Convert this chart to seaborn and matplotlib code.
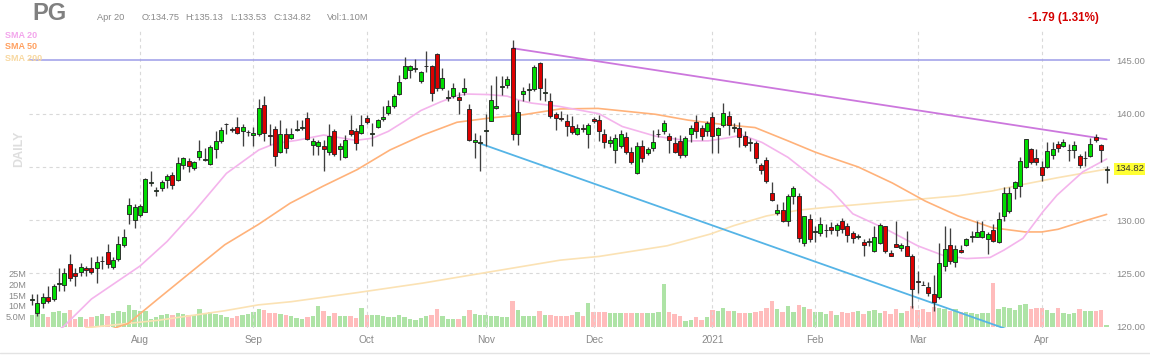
import numpy as np
import pandas as pd
import matplotlib
matplotlib.use("Agg")
import matplotlib.pyplot as plt
import matplotlib.transforms as mtransforms
import seaborn as sns

# ---------------- data ----------------
opens = [122.55,121.3,122.2,122.75,122.6,124.0,123.9,125.9,125.0,125.1,
125.5,125.5,125.5,126.15,127.0,125.6,126.35,127.65,130.6,130.0,
130.5,130.8,133.5,132.75,133.0,133.75,134.2,133.75,135.15,135.6,
134.95,135.9,135.65,135.25,136.7,137.4,139.0,138.6,138.8,138.4,
138.25,138.0,138.1,140.8,138.0,138.6,136.4,138.1,137.7,138.45,
138.7,139.6,137.1,136.95,137.0,136.45,138.35,136.7,135.9,138.5,
138.35,138.2,139.6,138.05,138.8,139.5,140.05,140.7,141.85,143.35,
144.15,144.2,143.05,144.45,144.45,145.6,142.45,141.5,141.7,141.55,
142.0,140.45,137.35,137.25,138.4,139.35,140.5,142.5,142.7,146.15,
138.1,141.85,142.2,142.3,144.8,141.95,141.15,139.95,139.62,139.3,
138.85,138.1,138.7,138.05,139.5,139.4,138.05,137.25,136.6,137.0,
137.8,136.45,134.45,137.0,136.3,136.8,138.05,138.35,137.95,137.25,
137.4,136.15,138.1,139.2,138.65,138.35,139.7,138.0,138.9,139.75,
138.65,138.7,137.9,137.25,137.25,135.2,135.7,132.55,130.7,131.0,
129.9,132.25,132.3,127.9,130.1,128.9,128.8,129.05,129.4,129.05,
129.95,129.45,128.8,128.45,127.95,128.0,127.1,127.85,129.45,126.9,
127.75,127.4,127.55,126.6,124.25,123.95,123.7,123.1,122.75,125.7,
127.65,126.05,127.2,127.65,128.4,128.45,128.4,128.2,129.1,127.95,
130.4,130.9,133.05,133.2,135.0,136.65,135.8,135.0,135.0,136.1,
137.2,137.0,136.55,136.6,136.05,135.8,136.0,137.8,137.05,134.75]

closes = [122.6,122.2,122.8,122.4,123.85,124.05,125.0,124.6,124.8,125.6,
125.3,125.1,126.1,126.2,125.9,126.3,127.8,128.4,131.4,131.2,
131.3,133.85,133.55,132.8,133.6,134.15,133.3,135.4,135.8,135.1,
135.5,136.5,135.7,136.9,137.4,138.5,139.05,138.45,138.2,138.8,
138.3,138.2,140.55,138.2,137.95,136.0,138.1,136.75,138.1,138.6,
138.75,137.65,137.45,137.35,136.7,137.95,136.2,136.95,137.55,138.05,
137.25,138.95,139.2,138.2,139.4,139.7,140.7,141.7,142.95,144.45,
144.45,144.25,143.9,144.5,141.95,142.45,143.35,141.55,142.4,141.3,
142.4,137.55,137.5,137.3,138.45,141.25,140.7,142.55,143.25,138.05,
140.2,142.1,142.3,144.35,142.45,142.0,139.75,139.6,139.47,138.85,
138.3,138.7,138.55,138.95,139.35,138.4,137.3,137.55,137.7,138.05,
136.45,135.5,137.0,135.85,136.7,137.3,138.1,139.1,137.5,136.45,
136.15,137.7,138.65,138.4,137.95,139.1,137.9,138.7,140.1,138.9,
138.65,137.8,137.1,137.25,135.85,134.75,133.65,131.9,131.0,129.9,
132.25,133.05,128.35,130.4,128.25,128.9,129.6,129.1,129.05,129.55,
129.15,128.6,128.3,128.45,127.65,128.05,128.45,129.55,127.1,126.65,
127.45,127.7,126.65,123.55,124.2,123.9,123.15,122.3,125.95,127.3,
126.2,127.3,127.0,128.2,128.55,128.9,129.0,128.7,128.05,130.15,
132.6,132.6,133.55,135.55,137.6,135.45,135.45,134.2,136.5,136.65,
136.8,137.35,136.55,137.05,135.15,135.8,137.2,137.5,136.61,134.82]

highs = [123.1,123.1,123.2,123.85,124.0,125.5,125.5,126.8,125.55,126.0,
125.7,126.5,126.65,126.65,127.75,126.5,128.5,129.2,132.1,131.5,
131.5,134.0,134.6,133.1,133.75,134.3,134.55,135.9,135.9,135.8,
135.6,137.5,136.8,137.1,138.4,138.8,139.15,138.8,139.7,139.0,
138.5,138.8,141.4,141.65,139.0,138.85,139.45,138.7,138.7,139.4,
139.45,140.15,137.7,137.55,137.55,139.0,138.6,137.25,138.0,139.9,
138.65,139.9,139.9,139.1,139.55,140.75,141.3,141.85,143.65,145.3,
144.6,145.1,144.05,145.9,144.6,145.7,144.3,142.25,142.9,142.05,
143.35,140.9,138.2,138.0,140.0,142.7,143.5,143.5,143.5,146.9,
141.3,142.55,142.9,144.55,144.9,143.4,141.95,140.2,140.3,139.95,
139.8,139.0,139.0,139.15,139.7,139.9,138.6,137.9,138.1,138.5,
138.3,136.9,137.3,137.5,136.9,138.5,138.6,139.4,138.2,137.8,
138.0,137.9,138.9,139.9,138.9,139.3,140.2,138.8,141.0,140.3,
139.1,139.2,138.4,137.7,137.4,135.4,135.9,133.6,131.5,131.7,
132.5,133.2,132.6,130.4,130.6,129.5,130.3,129.6,129.8,129.7,
130.2,129.7,129.0,128.7,128.2,128.3,129.5,129.75,129.5,127.2,
129.95,127.9,128.95,126.8,125.2,124.3,124.2,124.9,127.85,129.5,
129.3,127.65,127.65,128.35,129.0,129.95,129.95,128.85,129.65,130.75,
133.15,133.15,133.7,135.9,137.65,136.8,136.65,135.55,137.3,137.3,
137.45,137.6,137.2,137.4,136.2,136.5,137.75,138.1,137.15,135.13]

lows = [122.0,121.0,121.8,122.2,122.4,123.4,123.4,124.3,123.85,124.8,
124.8,124.95,124.15,125.4,125.55,125.4,126.2,127.5,129.6,129.3,
130.3,130.75,133.2,132.3,132.75,133.05,132.9,133.7,134.8,134.55,
134.7,135.7,135.55,135.2,135.85,137.25,138.05,138.3,138.05,137.0,
137.9,137.0,137.9,137.4,137.1,135.1,136.35,136.35,137.6,138.35,
138.5,137.55,136.15,136.15,134.65,136.15,136.0,135.7,135.85,137.9,
136.6,138.05,139.0,136.95,138.65,139.35,139.9,140.55,141.8,143.3,
143.35,143.95,142.9,143.95,141.15,142.1,142.25,141.15,141.45,140.0,
141.8,137.45,135.8,134.65,136.95,139.3,140.4,141.8,142.4,137.55,
137.1,141.15,141.15,142.1,141.25,141.15,139.6,138.5,139.3,137.9,
138.05,138.0,138.3,136.8,139.15,137.4,136.8,136.9,135.4,136.8,
136.2,135.3,134.3,135.5,136.1,136.5,137.8,138.1,136.3,136.3,
135.8,135.9,137.3,137.7,137.5,137.9,136.3,136.3,138.8,138.0,
138.3,136.9,136.9,136.5,135.4,134.3,133.5,131.8,130.5,129.8,
129.5,131.5,128.0,127.6,128.0,128.0,128.5,128.4,128.7,128.5,
128.8,128.0,127.9,128.2,126.6,127.6,127.0,127.75,126.9,126.6,
127.45,127.1,126.6,121.8,123.2,123.9,122.9,121.5,122.6,125.25,
125.9,125.6,126.9,127.6,128.0,128.4,128.3,126.85,128.0,127.9,
129.95,130.7,132.0,132.2,134.95,135.25,135.15,133.65,134.95,135.75,
136.4,136.85,135.55,135.8,134.95,135.1,135.95,137.3,135.5,133.53]

volumes_m = [5.5,6.3,6.3,4.9,7.0,7.5,6.5,8.0,3.6,4.6,
4.0,4.6,5.4,6.0,5.4,6.6,7.5,7.0,10.3,7.9,
7.5,7.5,4.0,4.5,5.8,6.0,5.5,6.5,6.0,5.8,
5.5,8.4,6.8,7.0,6.0,5.8,4.5,4.2,5.0,5.5,
6.0,7.2,8.3,7.8,6.5,6.6,6.0,5.5,5.0,4.2,
4.0,4.6,5.0,9.9,7.5,5.0,6.5,5.2,5.0,5.0,
4.4,8.8,5.5,5.5,5.5,5.0,4.5,4.5,5.5,4.5,
4.0,3.5,4.2,5.0,5.5,8.4,5.0,4.0,3.6,4.0,
5.0,8.0,6.0,5.6,5.5,5.2,5.0,4.5,4.5,12.3,
8.0,5.2,5.0,5.0,7.6,5.5,5.5,5.0,5.0,5.0,
5.5,7.0,5.0,11.5,7.0,7.0,7.0,6.5,6.5,6.5,
6.5,6.5,6.5,6.5,6.5,6.5,7.0,20.2,7.0,6.0,
5.0,2.8,3.5,4.5,3.5,4.5,8.0,7.5,9.0,7.5,
7.5,6.5,6.5,6.5,7.0,7.5,9.0,12.3,8.5,7.0,
9.9,7.0,10.4,9.5,8.5,7.0,7.2,6.2,7.5,5.5,
7.0,6.5,7.0,7.5,6.0,7.5,8.0,6.5,7.5,6.0,
8.5,6.5,7.5,9.9,8.0,8.5,7.0,9.5,9.0,8.5,
7.5,8.5,7.0,7.0,6.5,6.0,6.5,6.5,20.6,8.5,
9.5,9.0,8.0,10.5,11.0,8.5,9.0,9.0,8.0,6.5,
9.0,6.5,6.0,6.5,8.5,7.5,7.5,7.5,8.0,1.1]

# moving averages (bar index, price)
sma20_idx = [2, 5.8, 11, 20, 25, 30, 36, 42, 45, 49, 54, 60, 63, 66, 69, 72, 75.6, 78.7,
             80.5, 84.5, 88, 90, 92.5, 97.5, 105, 109.3, 115.4, 121.5, 125.2, 129, 131.5,
             135.2, 140, 145, 148, 152, 158, 164, 168.7, 173, 177.4, 180, 183.5, 187.2,
             189.8, 194.6, 199]
sma20_val = [118.7, 120.0, 122.6, 125.7, 128.0, 130.8, 134.4, 136.6, 137.2, 137.5, 138.0,
             137.5, 137.7, 138.35, 139.3, 140.3, 141.1, 141.7, 141.85, 141.8, 141.65, 141.3,
             141.0, 140.7, 140.0, 138.8, 137.9, 137.45, 137.45, 137.75, 138.0, 137.3, 135.9,
             133.9, 132.8, 130.6, 129.2, 127.6, 126.7, 126.4, 126.5, 127.2, 128.3, 130.8,
             132.35, 134.55, 135.75]
sma50_idx = [13, 17.8, 23.3, 29.6, 35.7, 41.9, 47.8, 53.9, 60.2, 66.3, 72.4, 78.7, 84.8,
             90.9, 97.8, 104.8, 115.4, 121.5, 127.8, 133.9, 140, 145, 147.8, 153, 159.3,
             165.4, 171.5, 177.8, 183.9, 187, 190, 195, 199]
sma50_val = [119.5, 120.3, 122.6, 125.2, 127.7, 129.6, 131.6, 133.2, 134.75, 136.6, 138.0,
             139.2, 139.6, 139.9, 140.45, 140.5, 139.95, 139.4, 139.0, 138.7, 137.45, 136.4,
             135.9, 135.0, 133.5, 131.8, 130.4, 129.3, 128.9, 128.9, 129.15, 129.95, 130.55]
sma200_idx = [10, 23.3, 35.7, 41.9, 48, 60.2, 72.4, 84.8, 97.8, 105, 117.6, 125.6, 130,
              136, 142, 148, 159.3, 171.5, 177.8, 183.9, 190, 199]
sma200_val = [119.9, 120.6, 121.5, 122.05, 122.35, 123.2, 124.1, 125.15, 126.25, 126.6,
              127.6, 128.7, 129.5, 130.4, 130.95, 131.25, 131.75, 132.3, 132.75, 133.4,
              134.0, 134.8]

resist_idx = [89, 199]
resist_val = [146.15, 137.6]
support_idx = [83, 182]
support_val = [137.2, 119.5]
level_145 = 145.0

month_labels = ["Aug", "Sep", "Oct", "Nov", "Dec", "2021", "Feb", "Mar", "Apr"]
month_pos = [20, 41, 62, 84, 104, 126, 145, 164, 187]
price_ticks = [120, 125, 130, 140, 145]
grid_prices = [125, 130, 135, 140]
vol_ticks = [5, 10, 15, 20, 25]
vol_tick_labels = ["5.0M", "10M", "15M", "20M", "25M"]

# ---------------- styling ----------------
sns.set_theme(style="white")
plt.rcParams["font.family"] = ["Liberation Sans", "DejaVu Sans"]

W, H = 1150, 356
fig = plt.figure(figsize=(W / 100, H / 100), dpi=100, facecolor="white")

left_px, right_px, top_px, bot_px = 29, 1110, 28, 328
axv = fig.add_axes([left_px / W, 1 - bot_px / H, (right_px - left_px) / W, (bot_px - top_px) / H])
axp = axv.twinx()

n = len(closes)
idx = np.arange(n)
o = np.array(opens); c = np.array(closes); h = np.array(highs); l = np.array(lows)
v = np.array(volumes_m)
up = c >= o

# volume (background axis)
vol_colors = np.where(up, "#aee3a6", "#ffbcbc")
axv.bar(idx, v, width=0.82, color=vol_colors, linewidth=0, zorder=1)
axv.set_ylim(-0.47, 141.0)
axv.set_yticks(vol_ticks)
axv.set_yticklabels(vol_tick_labels)
axv.tick_params(axis="y", length=0, pad=2, labelsize=6.6, labelcolor="#8a8a8a")
axv.set_xticks(month_pos)
axv.set_xticklabels(month_labels)
axv.tick_params(axis="x", length=0, pad=5, labelsize=7.3, labelcolor="#8a8a8a")
axv.set_xlim(-0.56, 199.62)
for s in axv.spines.values():
    s.set_visible(False)

# price axis
axp.set_ylim(119.88, 148.05)
axp.set_xlim(-0.56, 199.62)
axp.set_yticks(price_ticks)
axp.set_yticklabels([f"{t:.2f}" for t in price_ticks])
axp.tick_params(axis="y", length=0, pad=4.5, labelsize=6.8, labelcolor="#8a8a8a")
for s in axp.spines.values():
    s.set_visible(False)

# grid
for gp in grid_prices:
    axp.axhline(gp, color="#d9d9d9", lw=0.8, ls=(0, (3, 3)), zorder=0.5)
for mp in month_pos:
    axp.axvline(mp, color="#d9d9d9", lw=0.8, ls=(0, (3, 3)), zorder=0.5)
axp.axhline(level_145, color="#9d9de8", lw=1.1, zorder=1)

# moving averages
sma_specs = [(sma200_idx, sma200_val, "#fbe2b4"),
             (sma50_idx, sma50_val, "#ffb27a"),
             (sma20_idx, sma20_val, "#f4b4ec")]
for xs, ys, col in sma_specs:
    df = pd.DataFrame({"i": xs, "p": ys})
    sns.lineplot(data=df, x="i", y="p", ax=axp, color=col, lw=1.2, zorder=2,
                 estimator=None, sort=False, legend=False)

# trend lines
sns.lineplot(x=resist_idx, y=resist_val, ax=axp, color="#cc77dd", lw=1.3, zorder=2.5,
             estimator=None, legend=False)
sns.lineplot(x=support_idx, y=support_val, ax=axp, color="#55b4e6", lw=1.3, zorder=2.5,
             estimator=None, legend=False)

# candles
axp.vlines(idx, l, h, color="#404040", lw=0.95, zorder=3)
body_bottom = np.minimum(o, c)
body_h = np.maximum(np.abs(c - o), 0.06)
body_col = np.where(up, "#00dd00", "#dd0000")
axp.bar(idx, body_h, bottom=body_bottom, width=0.74, color=body_col,
        edgecolor="#262626", linewidth=0.65, zorder=4)
axp.set_xlabel(""); axp.set_ylabel(""); axv.set_xlabel(""); axv.set_ylabel("")

# last price tag
trans = mtransforms.blended_transform_factory(axp.transAxes, axp.transData)
axp.text(1.0 + 5 / (right_px - left_px), closes[-1], f"{closes[-1]:.2f}", transform=trans,
         ha="left", va="center", fontsize=6.8, color="#333333",
         bbox=dict(boxstyle="square,pad=0.15", fc="#ffff33", ec="none"), zorder=6)

# header texts
def fy(py):
    return 1 - py / H

fig.text(32 / W, fy(20), "PG", fontsize=17, fontweight="bold", color="#808080", va="baseline")
fig.text(97 / W, fy(20.5), "Apr 20", fontsize=6.7, color="#8a8a8a", va="baseline")
fig.text(141.5 / W, fy(20.5), f"O:{opens[-1]:.2f}", fontsize=6.7, color="#8a8a8a", va="baseline")
fig.text(185.5 / W, fy(20.5), f"H:{highs[-1]:.2f}", fontsize=6.7, color="#8a8a8a", va="baseline")
fig.text(230 / W, fy(20.5), f"L:{lows[-1]:.2f}", fontsize=6.7, color="#8a8a8a", va="baseline")
fig.text(273 / W, fy(20.5), f"C:{closes[-1]:.2f}", fontsize=6.7, color="#8a8a8a", va="baseline")
fig.text(327 / W, fy(20.5), f"Vol:{volumes_m[-1]:.2f}M", fontsize=6.7, color="#8a8a8a", va="baseline")
chg = closes[-1] - closes[-2]
fig.text(1099 / W, fy(20.5), f"{chg:.2f} ({abs(chg) / closes[-2] * 100:.2f}%)", fontsize=8.4,
         fontweight="bold", color="#d40000", va="baseline", ha="right")

fig.text(5 / W, fy(38.3), "SMA 20", fontsize=6.5, fontweight="bold", color="#f3a6ec", va="baseline")
fig.text(5 / W, fy(49.3), "SMA 50", fontsize=6.5, fontweight="bold", color="#ffa060", va="baseline")
fig.text(5 / W, fy(60.6), "SMA 200", fontsize=6.5, fontweight="bold", color="#f8d8a0", va="baseline")

fig.text(19 / W, fy(149), "DAILY", rotation=90, fontsize=9, fontweight="bold", color="#dedede",
         ha="center", va="center")

fig.add_artist(plt.Line2D([0, 1], [fy(353), fy(353)], color="#e3e3e3", lw=1))

fig.savefig("out.png", dpi=100, facecolor="white")
